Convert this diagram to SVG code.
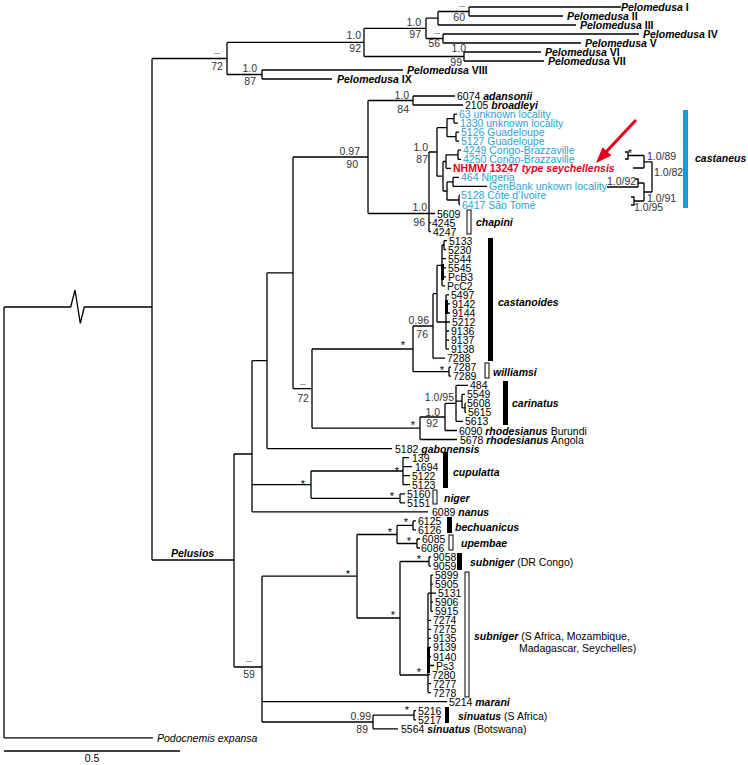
<svg xmlns="http://www.w3.org/2000/svg" width="748" height="765" viewBox="0 0 748 765">
<style>
text{font-family:"Liberation Sans",Arial,sans-serif;font-size:10.5px;fill:#000}
.s{font-size:10.5px;fill:#333}
.d{font-size:10.5px;fill:#888}
.st{font-size:11px;fill:#000;text-anchor:middle}
.bi{font-weight:bold;font-style:italic}
.b{font-weight:bold}
.i{font-style:italic}
.blue{fill:#2c9fd8}
.red{fill:#e3001b;font-weight:bold}
.e{text-anchor:end}
.m{text-anchor:middle}
.br{fill:none;stroke:#000;stroke-width:1.3}
.ob{fill:#fff;stroke:#000;stroke-width:1}
.fb{fill:#000}
</style>
<g id="connectors" class="br">
<path d="M4,307 V737.8 M4,307 H70.7 L75,290 L80.3,323.3 L84.3,307 H152 M4,737.8 H153"/>
<path d="M152,58.5 V560 M152,58.5 H227 M152,560 H234"/>
<path d="M227,42.4 V74.5 M227,42.4 H364 M227,74.5 H262 M262,70 V79 M262,70 H403 M262,79 H332"/>
<path d="M364,28.4 V56.5 M364,28.4 H426 M364,56.5 H464 M426,18.2 V38.5 M426,18.2 H438 M426,38.5 H443 M438,11.5 V25 M438,11.5 H469 M438,25 H576 M469,7 V16 M469,7 H621 M469,16 H563 M443,34 V43 M443,34 H639 M443,43 H581 M464,52 V61 M464,52 H541 M464,61 H544"/>
<path d="M234,454 V667 M234,454 H252 M234,667 H262"/>
<path d="M252,360.7 V511.8 M252,360.7 H267 M252,484.7 H311 M252,511.8 H428"/>
<path d="M267,272.8 V448.6 M267,272.8 H293 M267,448.6 H392"/>
<path d="M293,157 V388.6 M293,157 H368 M293,388.6 H312"/>
<path d="M368,100.5 V213.5 M368,100.5 H413 M368,213.5 H429 M413,96 V105 M413,96 H455 M413,105 H463"/>
<path d="M429,152 V231.6 M429,152 H437 M429,213.5 H435 M429,222.6 H431 M429,231.6 H431"/>
<path d="M437,127.7 V176.2 M437,127.7 H447 M437,176.2 H443 M447,118.6 V136.7 M447,118.6 H454 M447,136.7 H456 M454,114.1 V123.1 M454,114.1 H457 M454,123.1 H458 M456,132.2 V141.2 M456,132.2 H459 M456,141.2 H459"/>
<path d="M443,161.5 V191 M443,161.5 H446 M443,191 H447 M446,154.8 V168.3 M446,154.8 H458 M446,168.3 H451 M458,150.2 V159.3 M458,150.2 H461 M458,159.3 H461 M447,181.9 V200 M447,181.9 H453 M447,200 H459 M453,177.4 V186.4 M453,177.4 H459 M453,186.4 H487 M459,195.4 V204.5 M459,195.4 H460 M459,204.5 H460"/>
<path d="M312,349 V428.2 M312,349 H413 M312,428.2 H420 M413,326 V371.7 M413,326 H433 M413,371.7 H449 M449,367.2 V376.2 M449,367.2 H451 M449,376.2 H451"/>
<path d="M433,293.7 V358.2 M433,293.7 H437 M433,358.2 H445 M437,265.4 V322 M437,265.4 H442 M437,322 H446 M442,245 V285.8 M442,245 H444 M444,240.6 V249.7 M444,240.6 H447 M444,249.7 H446 M442,258.7 H446 M442,267.8 H446 M442,276.8 H446 M442,285.8 H445"/>
<path d="M446,294.9 V349.1 M446,294.9 H449 M446,303.9 H450 M446,313 H450 M446,322 H450 M446,331 H449 M446,340.1 H449 M446,349.1 H449"/>
<path d="M420,417 V439.5 M420,417 H445 M420,439.5 H457 M445,403.4 V430.5 M445,403.4 H456 M445,430.5 H457 M456,385.3 V421.4 M456,385.3 H468 M456,401.1 H462 M456,421.4 H463 M462,394.3 V407.9 M462,394.3 H465 M462,407.9 H465 M465,403.4 V412.4 M465,403.4 H466 M465,412.4 H466"/>
<path d="M311,471 V498.3 M311,471 H403 M311,498.3 H400 M403,457.6 V484.7 M403,457.6 H409 M403,466.6 H412 M403,475.7 H410 M403,484.7 H410 M400,493.8 V502.8 M400,493.8 H405 M400,502.8 H405"/>
<path d="M262,576.2 V722 M262,576.2 H357 M262,701.7 H447 M262,722 H373 M357,534.5 V618 M357,534.5 H397 M357,618 H400 M397,525.4 V543.5 M397,525.4 H413 M397,543.5 H417 M413,520.9 V529.9 M413,520.9 H416 M413,529.9 H416 M417,539 V548 M417,539 H420 M417,548 H420"/>
<path d="M400,561.5 V675 M400,561.5 H429 M400,675 H428 M429,557 V566.1 M429,557 H431 M429,566.1 H431 M428,593.2 V692.6 M428,593.2 H431 M431,575.1 V611.3 M431,575.1 H433 M431,584.2 H433 M431,593.2 H436 M431,602.2 H433 M431,611.3 H433 M428,620.3 H431 M428,629.4 H431 M428,638.4 H431 M428,647.4 H431 M428,656.5 H431 M428,665.5 H434 M428,674.6 H430 M428,683.6 H431 M428,692.6 H431"/>
<path d="M373,715.2 V728.8 M373,715.2 H414 M373,728.8 H398 M414,710.7 V719.8 M414,710.7 H416 M414,719.8 H416"/>
<rect x="441" y="264" width="3" height="16" class="fb" stroke="none"/>
<rect x="445" y="300" width="3" height="14" class="fb" stroke="none"/>
<rect x="427" y="647" width="3" height="26" class="fb" stroke="none"/>
<path d="M4,751 H180"/>
</g>
<g id="inset" class="br">
<path d="M625,152 H628 V159 H625 M628,155.5 H644 M633,168 H644 M644,155.5 V168 M644,161.8 H652 M652,161.8 V192 M652,192 H644 M644,183 V201 M638,183 H644 M635,179 H638 V187 M607,187 H638 M631,197 H634 V205 H631 M634,201 H644"/>
</g>
<g id="arrow">
<line x1="636" y1="120" x2="606" y2="152" stroke="#e3001b" stroke-width="3"/>
<polygon points="596,163 611.4,155.5 602.6,147.3" fill="#e3001b"/>
</g>
<g id="bars">
<rect x="683" y="110" width="5" height="98" fill="#1c9ad6"/>
<rect x="467" y="210" width="4" height="24" class="ob"/>
<rect x="488" y="238" width="5" height="123" class="fb"/>
<rect x="485" y="363" width="4" height="15" class="ob"/>
<rect x="503" y="381" width="5" height="44" class="fb"/>
<rect x="443" y="452" width="5" height="36" class="fb"/>
<rect x="433" y="490" width="4" height="14" class="ob"/>
<rect x="447" y="517" width="5" height="16" class="fb"/>
<rect x="449" y="535" width="4" height="15" class="ob"/>
<rect x="457" y="553" width="5" height="17" class="fb"/>
<rect x="465" y="572" width="4" height="125" class="ob"/>
<rect x="445" y="707" width="4" height="16" class="fb"/>
</g>
<g id="pelomedusa">
<text x="621" y="11" class="b"><tspan class="i">Pelomedusa</tspan> I</text>
<text x="567" y="20" class="b"><tspan class="i">Pelomedusa</tspan> II</text>
<text x="580" y="29" class="b"><tspan class="i">Pelomedusa</tspan> III</text>
<text x="643" y="38" class="b"><tspan class="i">Pelomedusa</tspan> IV</text>
<text x="585" y="47" class="b"><tspan class="i">Pelomedusa</tspan> V</text>
<text x="545" y="56" class="b"><tspan class="i">Pelomedusa</tspan> VI</text>
<text x="548" y="65" class="b"><tspan class="i">Pelomedusa</tspan> VII</text>
<text x="407" y="74" class="b"><tspan class="i">Pelomedusa</tspan> VIII</text>
<text x="337" y="83" class="b"><tspan class="i">Pelomedusa</tspan> IX</text>
</g>
<g id="pelomedusa-support">
<text x="465" y="9" class="d e">–</text><text x="465" y="21" class="s e">60</text>
<text x="421" y="26" class="s e">1.0</text><text x="421" y="38" class="s e">97</text>
<text x="440" y="36" class="d e">–</text><text x="440" y="47" class="s e">56</text>
<text x="361" y="39" class="s e">1.0</text><text x="361" y="52" class="s e">92</text>
<text x="466" y="52" class="s e">1.0</text><text x="462" y="66" class="s e">99</text>
<text x="217" y="56" class="d m">–</text><text x="217" y="70" class="s m">72</text>
<text x="257" y="72" class="s e">1.0</text><text x="256" y="85" class="s e">87</text>
</g>
<g id="castaneus-group">
<text x="457" y="100">6074 <tspan class="bi">adansonii</tspan></text>
<text x="465" y="109">2105 <tspan class="bi">broadleyi</tspan></text>
<text x="459" y="118.1" class="blue">63 unknown locality</text>
<text x="460" y="127.1" class="blue">1330 unknown locality</text>
<text x="461" y="136.2" class="blue">5126 Guadeloupe</text>
<text x="461" y="145.2" class="blue">5127 Guadeloupe</text>
<text x="463" y="154.2" class="blue">4249 Congo-Brazzaville</text>
<text x="463" y="163.3" class="blue">4250 Congo-Brazzaville</text>
<text x="453" y="172.3" class="red">NHMW 13247 <tspan class="i">type seychellensis</tspan></text>
<text x="461" y="181.4" class="blue">464 Nigeria</text>
<text x="489" y="190.4" class="blue">GenBank unkown locality</text>
<text x="461" y="199.4" class="blue">5128 Côte d’Ivoire</text>
<text x="462" y="208.5" class="blue">6417 São Tomé</text>
<text x="437" y="217.5">5609</text>
<text x="432" y="226.6">4245</text>
<text x="433" y="235.6">4247</text>
<text x="476" y="226" class="bi">chapini</text>
<text x="695" y="162" class="bi">castaneus</text>
</g>
<g id="inset-labels">
<text x="630" y="157" class="st">*</text>
<text x="647" y="160" class="s">1.0/89</text>
<text x="654" y="176" class="s">1.0/82</text>
<text x="607" y="185" class="s">1.0/92</text>
<text x="647" y="202" class="s">1.0/91</text>
<text x="634" y="211" class="s">1.0/95</text>
</g>
<g id="castanoides-group">
<text x="449" y="244.6">5133</text>
<text x="448" y="253.7">5230</text>
<text x="448" y="262.7">5544</text>
<text x="448" y="271.8">5545</text>
<text x="448" y="280.8">PcB3</text>
<text x="447" y="289.8">PcC2</text>
<text x="451" y="298.9">5497</text>
<text x="452" y="307.9">9142</text>
<text x="452" y="317">9144</text>
<text x="452" y="326">5212</text>
<text x="451" y="335">9136</text>
<text x="451" y="344.1">9137</text>
<text x="451" y="353.1">9138</text>
<text x="447" y="362.2">7288</text>
<text x="453" y="371.2">7287</text>
<text x="453" y="380.2">7289</text>
<text x="498" y="306" class="bi">castanoides</text>
<text x="493" y="376" class="bi">williamsi</text>
</g>
<g id="carinatus-group">
<text x="470" y="389.3">484</text>
<text x="467" y="398.3">5549</text>
<text x="467" y="407.4">5608</text>
<text x="468" y="416.4">5615</text>
<text x="465" y="425.4">5613</text>
<text x="459" y="434.5">6090 <tspan class="bi">rhodesianus</tspan> Burundi</text>
<text x="460" y="443.5">5678 <tspan class="bi">rhodesianus</tspan> Angola</text>
<text x="512" y="407" class="bi">carinatus</text>
<text x="395" y="452.6">5182 <tspan class="bi">gabonensis</tspan></text>
</g>
<g id="cupulatta-group">
<text x="412" y="461.6">139</text>
<text x="415" y="470.6">1694</text>
<text x="412" y="479.7">5122</text>
<text x="412" y="488.7">5123</text>
<text x="407" y="497.8">5160</text>
<text x="407" y="506.8">5151</text>
<text x="453" y="476" class="bi">cupulatta</text>
<text x="444" y="502" class="bi">niger</text>
<text x="432" y="515.8">6089 <tspan class="bi">nanus</tspan></text>
</g>
<g id="subniger-group">
<text x="418" y="524.9">6125</text>
<text x="418" y="533.9">6126</text>
<text x="422" y="543">6085</text>
<text x="421" y="552">6086</text>
<text x="433" y="561">9058</text>
<text x="433" y="570.1">9059</text>
<text x="435" y="579.1">5899</text>
<text x="435" y="588.2">5905</text>
<text x="438" y="597.2">5131</text>
<text x="435" y="606.2">5906</text>
<text x="435" y="615.3">5915</text>
<text x="433" y="624.3">7274</text>
<text x="433" y="633.4">7275</text>
<text x="433" y="642.4">9135</text>
<text x="433" y="651.4">9139</text>
<text x="433" y="660.5">9140</text>
<text x="436" y="669.5">Ps3</text>
<text x="432" y="678.6">7280</text>
<text x="433" y="687.6">7277</text>
<text x="433" y="696.6">7278</text>
<text x="455" y="531" class="bi">bechuanicus</text>
<text x="461" y="547" class="bi">upembae</text>
<text x="470" y="566"><tspan class="bi">subniger</tspan> (DR Congo)</text>
<text x="474" y="640"><tspan class="bi">subniger</tspan> (S Africa, Mozambique,</text>
<text x="519" y="652">Madagascar, Seychelles)</text>
</g>
<g id="sinuatus-group">
<text x="449" y="705.7">5214 <tspan class="bi">marani</tspan></text>
<text x="418" y="714.7">5216</text>
<text x="418" y="723.8">5217</text>
<text x="401" y="732.8">5564 <tspan class="bi">sinuatus</tspan> (Botswana)</text>
<text x="458" y="720"><tspan class="bi">sinuatus</tspan> (S Africa)</text>
</g>
<g id="outgroup">
<text x="157" y="741.8" class="i">Podocnemis expansa</text>
<text x="92" y="762" class="m">0.5</text>
<text x="171" y="557" class="bi">Pelusios</text>
</g>
<g id="support">
<text x="360" y="155" class="s e">0.97</text><text x="358" y="168" class="s e">90</text>
<text x="409" y="99" class="s e">1.0</text><text x="409" y="113" class="s e">84</text>
<text x="427" y="211" class="s e">1.0</text><text x="425" y="226" class="s e">96</text>
<text x="428" y="151" class="s e">1.0</text><text x="428" y="163" class="s e">87</text>
<text x="429" y="324" class="s e">0.96</text><text x="428" y="338" class="s e">76</text>
<text x="403" y="349" class="st">*</text>
<text x="442" y="374" class="st">*</text>
<text x="303" y="387" class="d m">–</text><text x="303" y="402" class="s m">72</text>
<text x="413" y="429" class="st">*</text>
<text x="440" y="416" class="s e">1.0</text><text x="438" y="427" class="s e">92</text>
<text x="454" y="401" class="s e">1.0/95</text>
<text x="303" y="488" class="st">*</text>
<text x="397" y="475" class="st">*</text>
<text x="392" y="500" class="st">*</text>
<text x="348" y="578" class="st">*</text>
<text x="390" y="536" class="st">*</text>
<text x="406" y="526" class="st">*</text>
<text x="409" y="545" class="st">*</text>
<text x="419" y="563" class="st">*</text>
<text x="393" y="619" class="st">*</text>
<text x="419" y="676" class="st">*</text>
<text x="249" y="664" class="d m">–</text><text x="249" y="678" class="s m">59</text>
<text x="371" y="720" class="s e">0.99</text><text x="368" y="733" class="s e">89</text>
<text x="407" y="714" class="st">*</text>
</g>
</svg>
